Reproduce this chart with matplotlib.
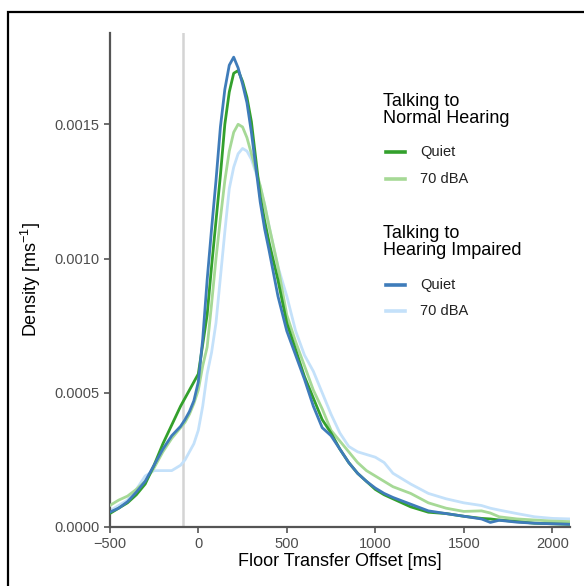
import numpy as np
import matplotlib.pyplot as plt
from matplotlib.patches import Rectangle
from matplotlib.lines import Line2D
from matplotlib.ticker import FormatStrFormatter

plt.rcParams['font.family'] = ['Liberation Sans', 'DejaVu Sans']
plt.rcParams['mathtext.default'] = 'regular'

# offsets (ms) at which the density curves were read
x = [-500, -450, -400, -350, -300, -250, -200, -150, -100, -75, -50, -25, 0, 25,
     50, 75, 100, 125, 150, 175, 200, 225, 250, 275, 300, 325, 350, 375, 400,
     450, 500, 550, 600, 650, 700, 750, 800, 850, 900, 950, 1000, 1050, 1100,
     1200, 1300, 1400, 1500, 1600, 1650, 1700, 1800, 1900, 2000, 2100]

nh_quiet = [0.00005, 0.00007, 0.00009, 0.00012, 0.00016, 0.00023, 0.00031, 0.00038,
            0.00045, 0.00048, 0.00051, 0.00054, 0.00057, 0.00068, 0.00079, 0.00097,
            0.00114, 0.00131, 0.0015, 0.00162, 0.00169, 0.0017, 0.00166, 0.0016,
            0.00151, 0.00137, 0.00123, 0.00114, 0.00106, 0.00092, 0.00076, 0.00066,
            0.00056, 0.00048, 0.0004, 0.00035, 0.00029, 0.00024, 0.0002, 0.00017,
            0.00014, 0.00012, 0.000105, 0.000075, 0.000055, 0.00005, 0.00004,
            0.000032, 0.00003, 0.000026, 0.00002, 0.000014, 0.000012, 0.00001]

nh_noise = [0.00008, 0.0001, 0.000115, 0.00014, 0.00017, 0.00022, 0.00028, 0.00033,
            0.00037, 0.00039, 0.00042, 0.00046, 0.00051, 0.0006, 0.00067, 0.00083,
            0.001, 0.00115, 0.00129, 0.0014, 0.00147, 0.0015, 0.00149, 0.00145,
            0.00139, 0.00133, 0.00127, 0.0012, 0.00112, 0.00097, 0.00079, 0.00069,
            0.0006, 0.00051, 0.00044, 0.00036, 0.00032, 0.00028, 0.00024, 0.00021,
            0.00019, 0.00017, 0.00015, 0.000125, 0.00009, 0.00007, 0.000058,
            0.00006, 0.000052, 0.000038, 0.00003, 0.000026, 0.000022, 0.00002]

hi_quiet = [0.000055, 0.00007, 0.000094, 0.00013, 0.00017, 0.00023, 0.00029, 0.00034,
            0.000375, 0.0004, 0.00043, 0.00047, 0.00054, 0.0007, 0.00092, 0.00111,
            0.00129, 0.00149, 0.00163, 0.00172, 0.00175, 0.00171, 0.00165, 0.00158,
            0.00147, 0.00134, 0.00121, 0.00111, 0.00103, 0.00086, 0.00073, 0.00064,
            0.00055, 0.00045, 0.00037, 0.00034, 0.00029, 0.00024, 0.0002, 0.00017,
            0.000145, 0.000125, 0.00011, 0.000085, 0.00006, 0.00005, 0.00004,
            0.00003, 0.000017, 0.000025, 0.000018, 0.000014, 0.000012, 0.00001]

hi_noise = [0.00006, 0.00008, 0.0001, 0.00014, 0.00019, 0.00021, 0.00021, 0.00021,
            0.00023, 0.00025, 0.00028, 0.00031, 0.00036, 0.00045, 0.00057, 0.00065,
            0.00076, 0.00093, 0.0011, 0.00126, 0.00134, 0.00139, 0.00141, 0.0014,
            0.00137, 0.00132, 0.00127, 0.0012, 0.00112, 0.00097, 0.00086, 0.00073,
            0.00064, 0.00058, 0.0005, 0.00042, 0.00035, 0.0003, 0.00028, 0.00027,
            0.00026, 0.00024, 0.0002, 0.00016, 0.000125, 0.000105, 0.00009,
            0.00008, 0.00007, 0.000063, 0.00005, 0.000038, 0.000032, 0.00003]

green = '#33a02c'
green_l = '#a6d996'
blue = '#3f7cba'
blue_l = '#c4e1fa'

fig = plt.figure(figsize=(5.84, 5.86), dpi=100)
ax = fig.add_axes([0.188, 0.1007, 0.788, 0.843])

ax.axvline(-85, color='#d4d4d4', lw=1.8, zorder=1)
ax.plot(x, hi_noise, color=blue_l, lw=2, zorder=2)
ax.plot(x, nh_noise, color=green_l, lw=2, zorder=3)
ax.plot(x, nh_quiet, color=green, lw=2, zorder=4)
ax.plot(x, hi_quiet, color=blue, lw=2, zorder=5)

ax.set_xlim(-500, 2100)
ax.set_ylim(0, 0.00184)
ax.set_xticks([-500, 0, 500, 1000, 1500, 2000])
ax.set_yticks([0, 0.0005, 0.001, 0.0015])
ax.yaxis.set_major_formatter(FormatStrFormatter('%.4f'))

for s in ['top', 'right']:
    ax.spines[s].set_visible(False)
for s in ['left', 'bottom']:
    ax.spines[s].set_color('#555555')
    ax.spines[s].set_linewidth(1.6)
ax.tick_params(colors='#555555', labelcolor='#4d4d4d', labelsize=10.5,
               length=4, width=1.2)

ax.set_xlabel('Floor Transfer Offset [ms]', fontsize=13, labelpad=1)
ax.set_ylabel('Density [ms$^{-1}$]', fontsize=13, labelpad=8)

# legend drawn as two titled groups
groups = [('Talking to\nNormal Hearing', [(green, 'Quiet'), (green_l, '70 dBA')], 0.8123),
          ('Talking to\nHearing Impaired', [(blue, 'Quiet'), (blue_l, '70 dBA')], 0.5862)]
for title, entries, yc in groups:
    fig.text(0.656, yc, title, fontsize=13, va='center', linespacing=1.0)
    for i, (col, lab) in enumerate(entries):
        yy = yc - 0.0717 - i * 0.046
        fig.add_artist(Line2D([0.661, 0.693], [yy, yy], color=col, lw=2.6))
        fig.text(0.719, yy, lab, fontsize=10.5, va='center', color='#222222')

fig.add_artist(Rectangle((0.0137, -0.1), 1.2, 1.0795, transform=fig.transFigure,
                         fill=False, edgecolor='black', lw=1.6))

fig.savefig('out.png', dpi=100)
